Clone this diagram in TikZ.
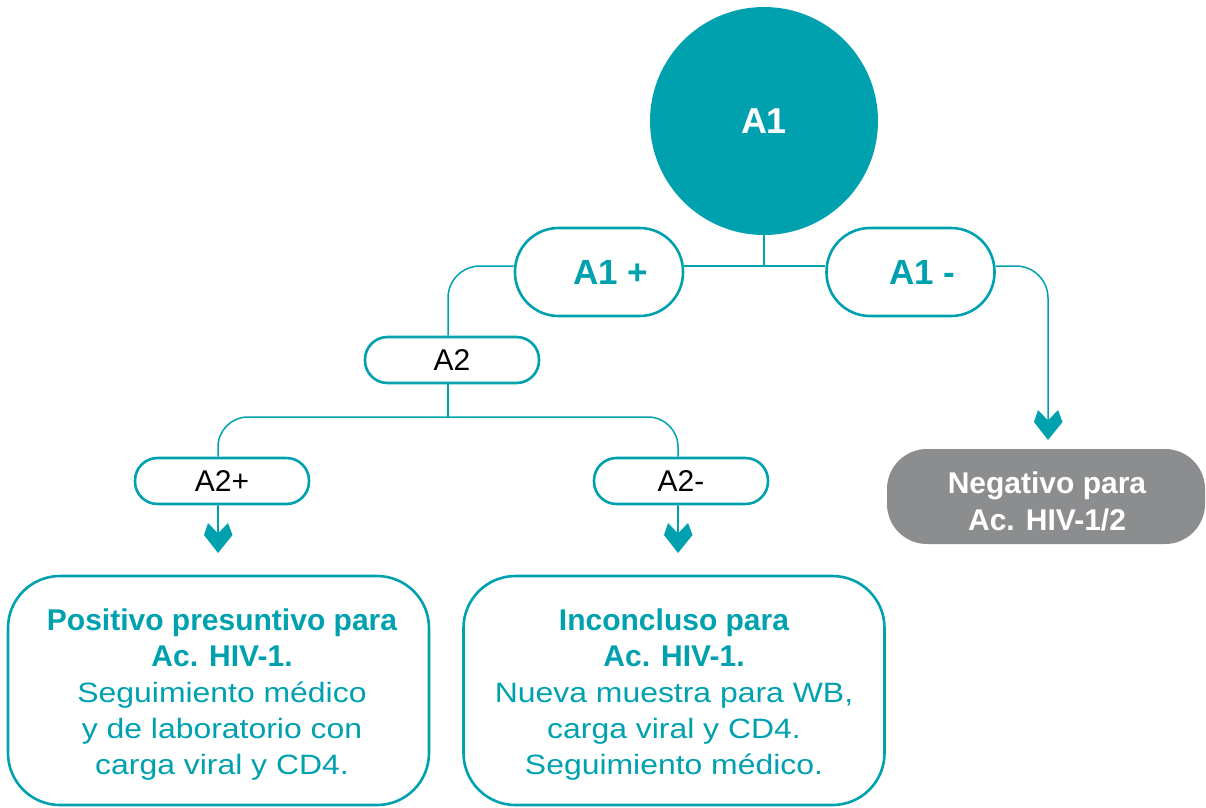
\documentclass[tikz,border=0pt]{standalone}
\usepackage{fontspec}
\setmainfont{Liberation Sans}
\newfontfamily\widefont[FakeStretch=1.14]{Liberation Sans}
\usetikzlibrary{calc}
\definecolor{teal1}{RGB}{0,161,175}
\definecolor{gray1}{RGB}{140,141,143}
\newcommand{\btx}{\fontsize{30}{36}\selectfont\bfseries}
\newcommand{\rtx}{\fontsize{28}{36}\selectfont\widefont\mdseries}
\tikzset{
  pillL/.style={draw=teal1,line width=2.6pt,fill=white,rounded corners=43.5pt,
    minimum width=168pt,minimum height=88pt,inner sep=0pt,
    font=\fontsize{35}{40}\selectfont\bfseries,text=teal1},
  pillS/.style={draw=teal1,line width=2.6pt,fill=white,rounded corners=22.5pt,
    minimum width=174pt,minimum height=46pt,inner sep=0pt,
    font=\fontsize{30}{36}\selectfont,text=black},
  bigbox/.style={draw=teal1,line width=2.6pt,rounded corners=52pt,
    minimum width=421pt,minimum height=229pt,inner sep=0pt},
  negbox/.style={fill=gray1,rounded corners=40pt,minimum width=318pt,
    minimum height=95pt,inner sep=0pt},
  boxtext/.style={align=center,text=teal1,inner sep=0pt,
    font=\fontsize{30}{36}\selectfont},
  negtext/.style={align=center,text=white,inner sep=0pt,
    font=\fontsize{30}{37}\selectfont\bfseries},
  link/.style={draw=teal1,line width=1.5pt},
  chev/.pic={\fill[teal1] (0,0) -- (14.5,-18) -- (10,-30) -- (0,-19.5)
    -- (-10,-30) -- (-14,-18) -- cycle;}
}
\begin{document}
\begin{tikzpicture}[x=1pt,y=-1pt]
\useasboundingbox (0,0) rectangle (1206,807);

% nodes
\node[circle,fill=teal1,minimum size=228pt,inner sep=0pt,text=white,
  font=\fontsize{36}{40}\selectfont\bfseries] (a1) at (764,121) {A1};
\node[pillL] (a1p) at (599,272) {\hspace*{24pt}A1 +};
\node[pillL] (a1m) at (910.5,272) {\hspace*{24pt}A1 -};
\node[pillS] (a2) at (452,360) {A2};
\node[pillS] (a2p) at (222,481) {A2+};
\node[pillS] (a2m) at (681,481) {A2-};
\node[negbox] (neg) at (1046,496.5) {};
\node[negtext] (negT) at ([xshift=1pt,yshift=-5pt]neg.center)
  {Negativo para\\Ac. HIV-1/2};
\node[bigbox] (pos) at (218.5,690.5) {};
\node[boxtext] (posT) at ([xshift=3.5pt,yshift=-4.5pt]pos.center)
  {\btx Positivo presuntivo para\\\btx Ac. HIV-1.\\\rtx Seguimiento médico\\\rtx y de laboratorio con\\\rtx carga viral y CD4.};
\node[bigbox] (inc) at (674,690.5) {};
\node[boxtext] (incT) at ([yshift=-4.5pt]inc.center)
  {\btx Inconcluso para\\\btx Ac. HIV-1.\\\rtx Nueva muestra para WB,\\\rtx carga viral y CD4.\\\rtx Seguimiento médico.};

% junction and arrow tip coordinates
\coordinate (j1) at (764,266);
\coordinate (j2) at (448,417);
\coordinate (t1) at (218,553);
\coordinate (t2) at (678,553);
\coordinate (tN) at (1048,440);

% connectors
\draw[link] (a1.south) -- (j1);
\draw[link] ([yshift=6pt]a1p.east) -- ([yshift=6pt]a1m.west);
\draw[link,rounded corners=32pt] ([yshift=6pt]a1p.west) -| ([xshift=-4pt]a2.north);
\draw[link] ([xshift=-4pt]a2.south) -- (j2);
\draw[link,rounded corners=30pt] ([xshift=-4pt]a2p.north) |- (j2) -| ([xshift=-3pt]a2m.north);
\draw[link,rounded corners=32pt] ([yshift=6pt]a1m.east) -| ([yshift=15pt]tN);
\draw[link] ([xshift=-4pt]a2p.south) -- ([yshift=15pt]t1);
\draw[link] ([xshift=-3pt]a2m.south) -- ([yshift=15pt]t2);

% arrowheads
\pic at (t1) {chev};
\pic at (t2) {chev};
\pic at (tN) {chev};
\end{tikzpicture}
\end{document}
